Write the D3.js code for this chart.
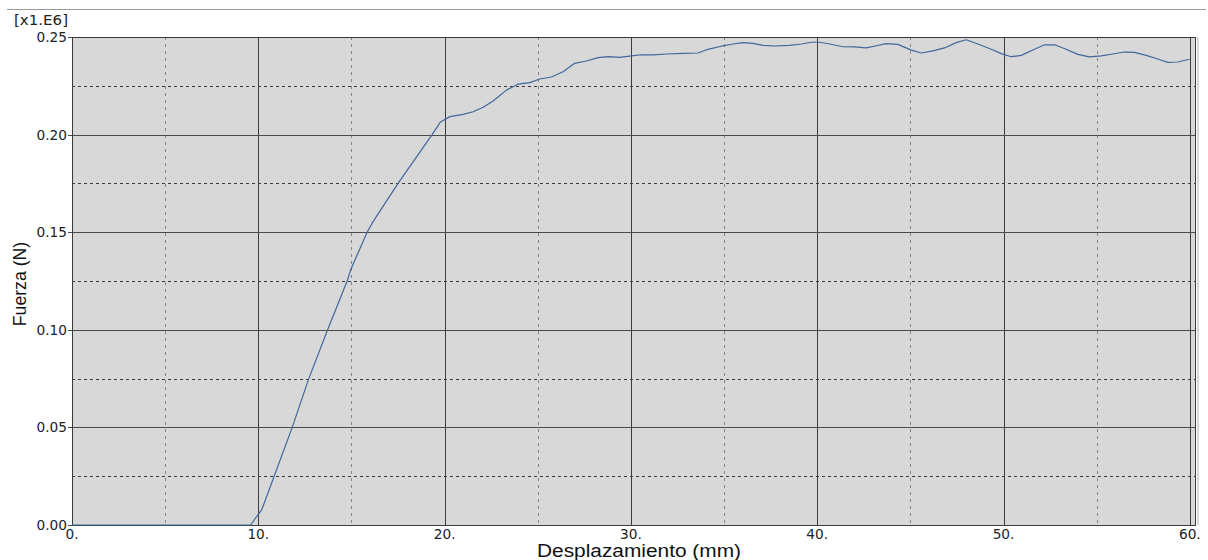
<!DOCTYPE html>
<html>
<head>
<meta charset="utf-8">
<script src="https://cdn.jsdelivr.net/npm/d3@7"></script>
<style>
  html, body { margin: 0; padding: 0; background: #ffffff; }
  svg { display: block; }
</style>
</head>
<body>
<svg id="chart" width="1208" height="560"></svg>
<script>
// Force–displacement curve (displacement in mm, force in units of 1e6 N)
const displacement = [
  0, 9.59, 10.0, 10.18, 10.85, 11.82, 12.71, 13.72, 14.77, 14.95, 15.84, 16.16,
  17.5, 19.33, 19.78, 20.28, 20.99, 21.53, 22.07, 22.6, 23.32, 23.95, 24.57,
  25.11, 25.73, 26.36, 26.98, 27.61, 28.24, 28.77, 29.4, 30.03, 30.56, 31.19,
  31.9, 32.8, 33.6, 34.14, 34.94, 35.48, 36.01, 36.55, 37.09, 37.71, 38.52,
  39.15, 39.68, 40.13, 40.67, 41.38, 42.0, 42.63, 43.17, 43.71, 44.33, 45.05,
  45.58, 46.21, 46.83, 47.46, 48.0, 48.62, 49.34, 49.88, 50.41, 50.95, 51.57,
  52.2, 52.74, 53.36, 53.99, 54.61, 55.24, 55.86, 56.49, 57.03, 57.66, 58.19,
  58.82, 59.35, 59.98
];
const force = [
  0, 0, 0.0055, 0.0077, 0.025, 0.05, 0.075, 0.1, 0.125, 0.1306, 0.15, 0.1554,
  0.175, 0.2, 0.2065, 0.2092, 0.2104, 0.2117, 0.214, 0.2172, 0.2228, 0.2259, 0.2266,
  0.2285, 0.2295, 0.2322, 0.2365, 0.2377, 0.2394, 0.2399, 0.2396, 0.2403, 0.2409, 0.2408,
  0.2413, 0.2416, 0.2418, 0.2437, 0.2455, 0.2464, 0.2471, 0.2467, 0.2457, 0.2454, 0.2457,
  0.2464, 0.2473, 0.2473, 0.2464, 0.245, 0.2449, 0.2444, 0.2455, 0.2466, 0.2462, 0.2433,
  0.2418, 0.2429, 0.2444, 0.2471, 0.2486, 0.2464, 0.2437, 0.2415, 0.2399, 0.2406, 0.2433,
  0.246, 0.246, 0.2437, 0.2411, 0.2398, 0.2403, 0.2413, 0.2423, 0.2421, 0.2406, 0.239,
  0.237, 0.2372, 0.2386
];

// Axis ticks
const xMajorTicks = [0, 10, 20, 30, 40, 50, 60];
const xMajorLabels = ["0.", "10.", "20.", "30.", "40.", "50.", "60."];
const xMinorTicks = [5, 15, 25, 35, 45, 55];
const yMajorTicks = [0, 0.05, 0.10, 0.15, 0.20, 0.25];
const yMajorLabels = ["0.00", "0.05", "0.10", "0.15", "0.20", "0.25"];
const yMinorTicks = [0.025, 0.075, 0.125, 0.175, 0.225];

const xDomain = [0, 60.33];
const yDomain = [0, 0.25];

const svg = d3.select("#chart");
const plot = { left: 72, top: 37, right: 1196, bottom: 525 };

const x = d3.scaleLinear().domain(xDomain).range([plot.left, plot.right]);
const y = d3.scaleLinear().domain(yDomain).range([plot.bottom, plot.top]);
const px = v => Math.round(x(v)) + 0.5;
const py = v => Math.round(y(v)) + 0.5;

// thin separator rule at the top of the page
svg.append("line")
  .attr("x1", 7).attr("x2", 1206).attr("y1", 9.5).attr("y2", 9.5)
  .attr("stroke", "#9a9a9a").attr("stroke-width", 1);

// plot background
svg.append("rect")
  .attr("x", plot.left).attr("y", plot.top)
  .attr("width", plot.right - plot.left).attr("height", plot.bottom - plot.top)
  .attr("fill", "#d8d8d8");

// light strip right of the frame
svg.append("rect")
  .attr("x", plot.right + 1).attr("y", plot.top)
  .attr("width", 2).attr("height", plot.bottom - plot.top)
  .attr("fill", "#d8d8d8");

const grid = svg.append("g").attr("shape-rendering", "crispEdges");

// minor vertical grid (dotted, light)
grid.selectAll("line.xminor").data(xMinorTicks).join("line")
  .attr("class", "xminor")
  .attr("x1", d => px(d)).attr("x2", d => px(d))
  .attr("y1", plot.top).attr("y2", plot.bottom)
  .attr("stroke", "#858585").attr("stroke-dasharray", "3,4");

// minor horizontal grid (dashed, dark)
grid.selectAll("line.yminor").data(yMinorTicks).join("line")
  .attr("class", "yminor")
  .attr("x1", plot.left).attr("x2", plot.right)
  .attr("y1", d => py(d)).attr("y2", d => py(d))
  .attr("stroke", "#3a3a3a").attr("stroke-dasharray", "3,3");

// major vertical grid
grid.selectAll("line.xmajor").data(xMajorTicks).join("line")
  .attr("class", "xmajor")
  .attr("x1", d => px(d)).attr("x2", d => px(d))
  .attr("y1", plot.top).attr("y2", plot.bottom)
  .attr("stroke", "#3c3c3c");

// major horizontal grid
grid.selectAll("line.ymajor").data(yMajorTicks).join("line")
  .attr("class", "ymajor")
  .attr("x1", plot.left - 4).attr("x2", plot.right)
  .attr("y1", d => py(d)).attr("y2", d => py(d))
  .attr("stroke", "#4a4a4a");

// frame
svg.append("rect")
  .attr("x", plot.left + 0.5).attr("y", plot.top + 0.5)
  .attr("width", plot.right - plot.left - 1).attr("height", plot.bottom - plot.top)
  .attr("fill", "none").attr("stroke", "#3a3a3a")
  .attr("shape-rendering", "crispEdges");

// data curve
const points = displacement.map((d, i) => [d, force[i]]);
const line = d3.line().x(d => x(d[0])).y(d => y(d[1]));
svg.append("path")
  .datum(points)
  .attr("d", line)
  .attr("fill", "none")
  .attr("stroke", "#41679b")
  .attr("stroke-width", 1.2)
  .attr("stroke-linejoin", "round");

// tick labels
const tickFont = "'DejaVu Sans', Verdana, sans-serif";
svg.append("g").selectAll("text").data(xMajorTicks).join("text")
  .attr("x", d => x(d)).attr("y", 539)
  .attr("text-anchor", "middle")
  .attr("font-family", tickFont).attr("font-size", 13.7)
  .attr("fill", "#222")
  .text((d, i) => xMajorLabels[i]);

svg.append("g").selectAll("text").data(yMajorTicks).join("text")
  .attr("x", 67).attr("y", d => y(d) + 5)
  .attr("text-anchor", "end")
  .attr("font-family", tickFont).attr("font-size", 13.7)
  .attr("fill", "#222")
  .text((d, i) => yMajorLabels[i]);

// scale factor of the force axis
svg.append("text")
  .attr("x", 68).attr("y", 25)
  .attr("text-anchor", "end")
  .attr("font-family", tickFont).attr("font-size", 14.5)
  .attr("textLength", 54).attr("lengthAdjust", "spacingAndGlyphs")
  .attr("fill", "#222")
  .text("[x1.E6]");

// axis titles
svg.append("text")
  .attr("x", 639).attr("y", 557)
  .attr("text-anchor", "middle")
  .attr("font-family", "'Liberation Sans', Arial, sans-serif")
  .attr("font-size", 17.5)
  .attr("textLength", 204).attr("lengthAdjust", "spacingAndGlyphs")
  .attr("fill", "#111")
  .text("Desplazamiento (mm)");

svg.append("text")
  .attr("transform", "translate(26,284) rotate(-90)")
  .attr("text-anchor", "middle")
  .attr("font-family", "'Liberation Sans', Arial, sans-serif")
  .attr("font-size", 17.7)
  .attr("fill", "#111")
  .text("Fuerza (N)");
</script>
</body>
</html>
